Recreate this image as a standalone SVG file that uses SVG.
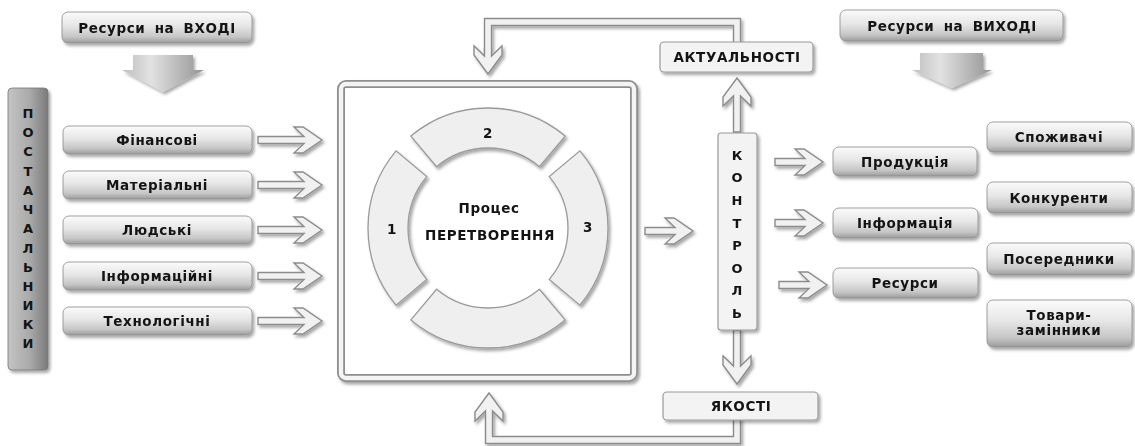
<svg xmlns="http://www.w3.org/2000/svg" xmlns:xlink="http://www.w3.org/1999/xlink" width="1135" height="446" viewBox="0 0 1135 446">
<defs>
<filter id="ds" x="-20%" y="-20%" width="140%" height="150%">
<feDropShadow dx="2" dy="2.5" stdDeviation="1.6" flood-color="#000" flood-opacity="0.35"/>
</filter>
<linearGradient id="gBox" x1="0" y1="0" x2="0" y2="1">
<stop offset="0" stop-color="#fbfbfb"/>
<stop offset="0.45" stop-color="#e6e6e6"/>
<stop offset="0.8" stop-color="#c6c6c6"/>
<stop offset="1" stop-color="#9c9c9c"/>
</linearGradient>
<linearGradient id="gBar" x1="0" y1="0" x2="1" y2="0">
<stop offset="0" stop-color="#c4c4c4"/>
<stop offset="0.55" stop-color="#a9a9a9"/>
<stop offset="1" stop-color="#7a7a7a"/>
</linearGradient>
<linearGradient id="gBig" x1="0" y1="0" x2="1" y2="0">
<stop offset="0" stop-color="#bdbdbd"/>
<stop offset="0.35" stop-color="#e2e2e2"/>
<stop offset="1" stop-color="#949494"/>
</linearGradient>
<path id="aL" d="M0,0 L-19,13 L-28,13 L-18,3.5 L-64,3.5 L-64,-3.5 L-18,-3.5 L-28,-13 L-19,-13 Z"/>
<path id="aS" d="M0,0 L-19,13 L-28,13 L-18,3.5 L-48,3.5 L-48,-3.5 L-18,-3.5 L-28,-13 L-19,-13 Z"/>
<path id="aV" d="M0,0 L-19,14 L-28,14 L-18,3.5 L-54,3.5 L-54,-3.5 L-18,-3.5 L-28,-14 L-19,-14 Z"/>
<path id="hd" d="M-26,3.5 L-18,3.5 L-28,14 L-19,14 L0,0 L-19,-14 L-28,-14 L-18,-3.5 L-26,-3.5"/>
<style>
.t{font-family:"DejaVu Sans",Verdana,sans-serif;font-weight:bold;font-size:13.5px;fill:#141414;text-anchor:middle;letter-spacing:0.6px}
.v{font-family:"DejaVu Sans",Verdana,sans-serif;font-weight:bold;font-size:13px;fill:#141414;text-anchor:middle}
.bx{fill:url(#gBox);stroke:#8a8a8a;stroke-width:0.8;filter:url(#ds)}
.lb{fill:#f3f3f3;stroke:#9a9a9a;stroke-width:1.2;filter:url(#ds)}
.ar{fill:#f1f1f1;stroke:#8c8c8c;stroke-width:1.4;stroke-linejoin:miter}
.so{fill:none;stroke:#8c8c8c;stroke-width:8.4;stroke-linejoin:miter}
.si{fill:none;stroke:#f1f1f1;stroke-width:5.6;stroke-linejoin:miter}
.seg{fill:#efefef;stroke:#9a9a9a;stroke-width:1.3}
</style>
</defs>
<rect width="1135" height="446" fill="#ffffff"/>

<g id="connectors" filter="url(#ds)">
<use href="#aL" class="ar" transform="translate(322,140)"/>
<use href="#aL" class="ar" transform="translate(322,185)"/>
<use href="#aL" class="ar" transform="translate(322,230)"/>
<use href="#aL" class="ar" transform="translate(322,276)"/>
<use href="#aL" class="ar" transform="translate(322,321)"/>
<use href="#aS" class="ar" transform="translate(693,231)"/>
<use href="#aS" class="ar" transform="translate(823,162)"/>
<use href="#aS" class="ar" transform="translate(823,223)"/>
<use href="#aS" class="ar" transform="translate(827,285)"/>
<use href="#aV" class="ar" transform="translate(737,78) rotate(-90)"/>
<use href="#aV" class="ar" transform="translate(737,384) rotate(90)"/>
<polyline class="so" points="488,52 488,22 737,22 737,44"/>
<polyline class="si" points="488,52 488,22 737,22 737,44"/>
<use href="#hd" class="ar" transform="translate(488,74) rotate(90)"/>
<polyline class="so" points="737,418 737,440 489,440 489,414"/>
<polyline class="si" points="737,418 737,440 489,440 489,414"/>
<use href="#hd" class="ar" transform="translate(489,393) rotate(-90)"/>
</g>

<g id="in-header">
<rect class="bx" x="62" y="12" width="190" height="31" rx="6"/>
<text class="t" x="157" y="32.5" word-spacing="4">Ресурси на ВХОДІ</text>
<path d="M133,55 H193 V70 H204 L163,92 L122,70 H133 Z" fill="url(#gBig)" filter="url(#ds)"/>
</g>

<g id="out-header">
<rect class="bx" x="840" y="10" width="223" height="31" rx="6"/>
<text class="t" x="952" y="30.5" word-spacing="4">Ресурси на ВИХОДІ</text>
<path d="M920,53 H983 V70 H992 L952,88 L912,70 H920 Z" fill="url(#gBig)" filter="url(#ds)"/>
</g>

<g id="suppliers">
<rect x="8" y="88" width="40" height="282" rx="4" fill="url(#gBar)" stroke="#777" stroke-width="0.8" filter="url(#ds)"/>
<text class="v" x="28" y="118">П</text>
<text class="v" x="28" y="137">О</text>
<text class="v" x="28" y="156">С</text>
<text class="v" x="28" y="176">Т</text>
<text class="v" x="28" y="195">А</text>
<text class="v" x="28" y="214">Ч</text>
<text class="v" x="28" y="233">А</text>
<text class="v" x="28" y="253">Л</text>
<text class="v" x="28" y="272">Ь</text>
<text class="v" x="28" y="291">Н</text>
<text class="v" x="28" y="310">И</text>
<text class="v" x="28" y="329">К</text>
<text class="v" x="28" y="348">И</text>
</g>

<g id="in-finance"><rect class="bx" x="63" y="126" width="189" height="28" rx="6"/><text class="t" x="157" y="145">Фінансові</text></g>
<g id="in-material"><rect class="bx" x="63" y="171" width="189" height="28" rx="6"/><text class="t" x="157" y="190">Матеріальні</text></g>
<g id="in-human"><rect class="bx" x="63" y="216" width="189" height="28" rx="6"/><text class="t" x="157" y="235">Людські</text></g>
<g id="in-info"><rect class="bx" x="63" y="262" width="189" height="28" rx="6"/><text class="t" x="157" y="281">Інформаційні</text></g>
<g id="in-tech"><rect class="bx" x="63" y="307" width="189" height="28" rx="6"/><text class="t" x="157" y="326">Технологічні</text></g>

<g id="process">
<rect x="341" y="84" width="293" height="294" rx="5" fill="#ffffff" stroke="#8e8e8e" stroke-width="8" filter="url(#ds)"/>
<rect x="341" y="84" width="293" height="294" rx="5" fill="none" stroke="#f4f4f4" stroke-width="4.4"/>
<g filter="url(#ds)">
<path class="seg" d="M410.87,136.07 A120,120 0 0 1 565.13,136.07 L539.42,166.72 A80,80 0 0 0 436.58,166.72 Z"/>
<path class="seg" d="M579.93,150.87 A120,120 0 0 1 579.93,305.13 L549.28,279.42 A80,80 0 0 0 549.28,176.58 Z"/>
<path class="seg" d="M565.13,319.93 A120,120 0 0 1 410.87,319.93 L436.58,289.28 A80,80 0 0 0 539.42,289.28 Z"/>
<path class="seg" d="M396.07,305.13 A120,120 0 0 1 396.07,150.87 L426.72,176.58 A80,80 0 0 0 426.72,279.42 Z"/>
</g>
<text class="t" x="488" y="138">2</text>
<text class="t" x="392" y="234">1</text>
<text class="t" x="588" y="232">3</text>
<text class="t" x="489" y="213" letter-spacing="0.4">Процес</text>
<text class="t" x="490" y="240">ПЕРЕТВОРЕННЯ</text>
</g>

<g id="actual"><rect class="lb" x="660" y="42" width="153" height="30" rx="4"/><text class="t" x="737" y="62">АКТУАЛЬНОСТІ</text></g>
<g id="quality"><rect class="lb" x="663" y="392" width="155" height="28" rx="4"/><text class="t" x="741" y="411">ЯКОСТІ</text></g>

<g id="control">
<rect class="lb" x="718" y="133" width="39" height="197" rx="3"/>
<text class="v" x="737" y="160">К</text>
<text class="v" x="737" y="182">О</text>
<text class="v" x="737" y="205">Н</text>
<text class="v" x="737" y="228">Т</text>
<text class="v" x="737" y="250">Р</text>
<text class="v" x="737" y="273">О</text>
<text class="v" x="737" y="295">Л</text>
<text class="v" x="737" y="318">Ь</text>
</g>

<g id="out-product"><rect class="bx" x="833" y="147" width="144" height="29" rx="6"/><text class="t" x="905" y="166.5">Продукція</text></g>
<g id="out-info"><rect class="bx" x="833" y="208" width="145" height="30" rx="6"/><text class="t" x="905" y="228">Інформація</text></g>
<g id="out-resources"><rect class="bx" x="833" y="268" width="145" height="30" rx="6"/><text class="t" x="905" y="288">Ресурси</text></g>

<g id="consumers"><rect class="bx" x="987" y="122" width="145" height="30" rx="6"/><text class="t" x="1059" y="142">Споживачі</text></g>
<g id="competitors"><rect class="bx" x="987" y="182" width="145" height="31" rx="6"/><text class="t" x="1059" y="202.5">Конкуренти</text></g>
<g id="intermediaries"><rect class="bx" x="987" y="243" width="145" height="32" rx="6"/><text class="t" x="1059" y="264">Посередники</text></g>
<g id="substitutes"><rect class="bx" x="987" y="300" width="145" height="47" rx="6"/><text class="t" x="1059" y="319.5">Товари-</text><text class="t" x="1059" y="334.5">замінники</text></g>
</svg>
